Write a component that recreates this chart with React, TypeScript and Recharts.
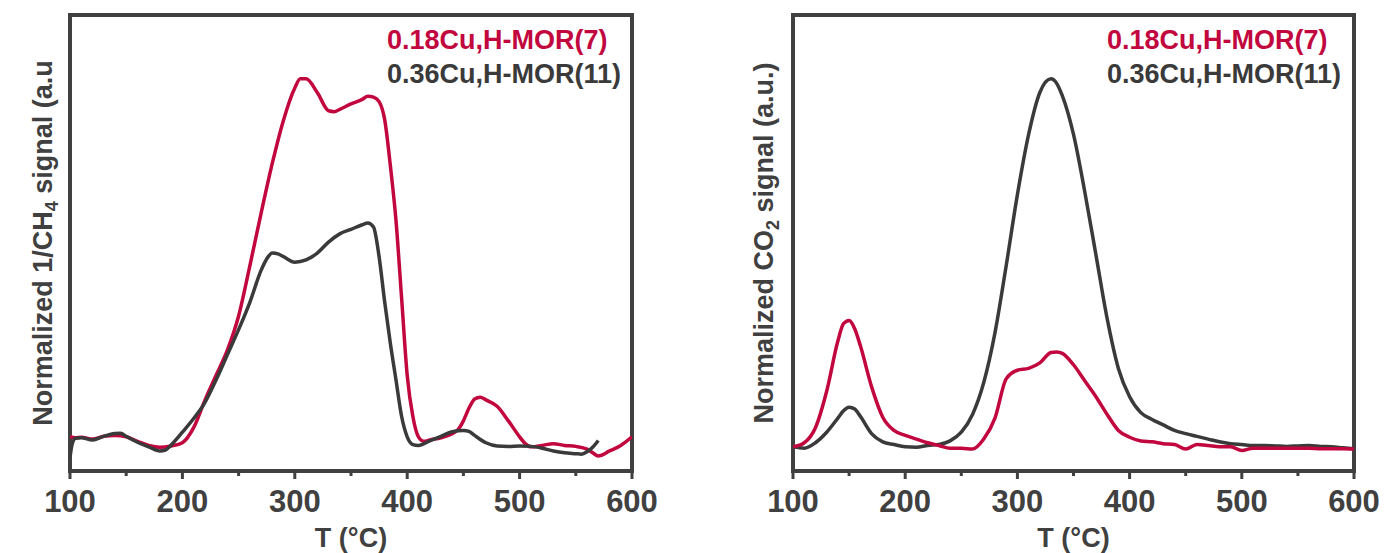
import { LineChart, Line, XAxis, YAxis, ReferenceArea, Legend, Customized } from 'recharts';

type Pt = [number, number];

const SERIES_NAMES = ['0.18Cu,H-MOR(7)', '0.36Cu,H-MOR(11)'];
const TEMP_TICKS = [100, 150, 200, 250, 300, 350, 400, 450, 500, 550, 600];

// 1/CH4 signal, panel a
const ch4Cu018: Pt[] = [
  [100, 7.5], [105, 7.3], [110, 7.4], [120, 7.0], [130, 7.6], [140, 7.8], [150, 7.5], [160, 6.5],
  [170, 5.6], [180, 5.2], [190, 5.5], [200, 6.2], [210, 9.5], [220, 15.5], [230, 21], [240, 26.5],
  [250, 34], [260, 45], [270, 56.5], [280, 67.5], [290, 77], [300, 84], [305, 86], [310, 86],
  [320, 83], [330, 79], [335, 78.8], [340, 79.3], [350, 80.5], [360, 81.5], [365, 82.2], [370, 82],
  [375, 81], [380, 77], [385, 67], [390, 55], [395, 38], [400, 21], [405, 12], [410, 7.5],
  [415, 6.5], [420, 6.8], [430, 7.3], [440, 8.2], [445, 9], [450, 11], [455, 13.8], [460, 15.8],
  [465, 16.2], [470, 15.6], [480, 14.2], [490, 11], [500, 7.5], [505, 6], [510, 5.3], [520, 5.6],
  [530, 6], [540, 5.6], [550, 5.4], [560, 4.8], [565, 4], [570, 3.3], [580, 4.4], [590, 5.6], [600, 7.5],
];

const ch4Cu036: Pt[] = [
  [100, 3], [102, 6], [105, 7.2], [110, 7.3], [120, 6.8], [130, 7.6], [140, 8.2], [145, 8.3],
  [150, 7.6], [160, 6.3], [170, 5.3], [180, 4.4], [185, 4.6], [190, 5.7], [200, 8.5], [210, 11.5],
  [220, 15], [230, 20], [240, 25.5], [250, 31], [260, 37], [270, 44], [275, 46.5], [280, 47.8],
  [285, 47.6], [290, 47], [300, 45.8], [310, 46.3], [320, 47.8], [330, 50.2], [340, 52], [350, 53],
  [360, 54], [365, 54.4], [370, 53.5], [375, 47], [380, 37], [385, 28], [390, 20], [395, 12],
  [400, 7.5], [405, 5.8], [410, 5.6], [420, 6.6], [430, 7.6], [440, 8.6], [450, 8.9], [455, 8.7],
  [460, 7.8], [470, 6.2], [480, 5.5], [490, 5.4], [500, 5.5], [510, 5.4], [520, 5], [530, 4.4],
  [540, 4], [550, 3.8], [555, 3.7], [560, 4.2], [565, 5.2], [570, 6.7],
];

// CO2 signal, panel b
const co2Cu018: Pt[] = [
  [100, 5.3], [110, 6.2], [120, 9.5], [130, 17.5], [140, 28.5], [145, 32.3], [150, 33], [155, 31.2],
  [160, 27.5], [170, 18.5], [180, 11.8], [190, 8.9], [200, 7.8], [210, 7], [220, 6.2], [230, 5.6],
  [240, 5], [250, 5], [260, 4.8], [270, 7], [280, 11.6], [290, 20.2], [300, 22.1], [310, 22.5],
  [320, 23.7], [330, 26], [335, 26.1], [340, 25.8], [350, 23.3], [360, 19.8], [370, 16.3], [380, 12.4],
  [390, 8.9], [400, 7.4], [410, 6.6], [420, 6.4], [430, 6], [440, 5.8], [450, 4.8], [460, 5.8],
  [470, 5.6], [480, 5.3], [490, 5.3], [500, 4.5], [510, 5], [520, 5], [530, 5], [540, 5],
  [550, 5], [560, 5], [570, 4.9], [580, 4.9], [590, 4.9], [600, 4.8],
];

const co2Cu036: Pt[] = [
  [100, 5.3], [110, 5.0], [120, 6.2], [130, 8.5], [140, 11.6], [145, 13.2], [150, 14], [155, 13.6],
  [160, 12], [170, 8.2], [180, 6.4], [190, 5.8], [200, 5.3], [210, 5.2], [220, 5.6], [230, 5.8],
  [240, 6.6], [250, 8.5], [260, 12.4], [270, 19.4], [280, 30.3], [290, 45], [300, 60.6], [310, 73.8],
  [320, 83], [330, 86], [335, 85], [340, 82.3], [350, 73.8], [360, 61.3], [370, 47.4], [380, 33.4],
  [390, 22.5], [400, 16.3], [410, 12.8], [420, 11.3], [430, 10.1], [440, 8.9], [450, 8.2], [460, 7.6],
  [470, 7], [480, 6.4], [490, 6], [500, 5.8], [510, 5.6], [520, 5.6], [530, 5.5], [540, 5.4],
  [550, 5.5], [560, 5.6], [570, 5.4], [580, 5.3], [590, 5.1], [600, 4.9],
];

const RED = '#c2073f';
const DARK = '#3a3a3a';
const FRAME = '#404040';
const FONT = '"Liberation Sans", Arial, sans-serif';

const toRows = (pts: Pt[]) => pts.map(([t, v]) => ({ t, v }));

const TempTick = (props: any) => {
  const { x, y, payload } = props;
  const major = payload.value % 100 === 0;
  return (
    <g>
      <line x1={x} x2={x} y1={y} y2={y + (major ? 8 : 5)} stroke={FRAME} strokeWidth={3} />
      {major && (
        <text x={x} y={y + 41} textAnchor="middle" fill={FRAME} fontFamily={FONT} fontWeight="bold" fontSize={31}>
          {payload.value}
        </text>
      )}
    </g>
  );
};

const LegendBox = () => (
  <div style={{ fontFamily: FONT, fontSize: 27, lineHeight: '34px', whiteSpace: 'nowrap', fontWeight: 'bold' }}>
    <div style={{ color: RED }}>{SERIES_NAMES[0]}</div>
    <div style={{ color: DARK }}>{SERIES_NAMES[1]}</div>
  </div>
);

interface PanelProps {
  red: Pt[];
  dark: Pt[];
  redOnTop: boolean;
  marginLeft: number;
  marginRight: number;
  legendLeft: number;
  labelX: number;
  yLabel: [string, string, string];
}

const W = 693;
const H = 553;
const TOP = 15;
const BOTTOM_AXIS = 60;
const BOTTOM_MARGIN = 22;

const Panel = ({ red, dark, redOnTop, marginLeft, marginRight, legendLeft, labelX, yLabel }: PanelProps) => {
  const plotMidX = marginLeft + (W - marginLeft - marginRight) / 2;
  const plotMidY = TOP + (H - TOP - BOTTOM_AXIS - BOTTOM_MARGIN) / 2;
  const redLine = (
    <Line key="r" data={toRows(red)} dataKey="v" name={SERIES_NAMES[0]} type="monotone" stroke={RED}
      strokeWidth={3.5} dot={false} isAnimationActive={false} />
  );
  const darkLine = (
    <Line key="d" data={toRows(dark)} dataKey="v" name={SERIES_NAMES[1]} type="monotone" stroke={DARK}
      strokeWidth={3.5} dot={false} isAnimationActive={false} />
  );
  return (
    <LineChart width={W} height={H} margin={{ top: TOP, right: marginRight, bottom: BOTTOM_MARGIN, left: marginLeft }}>
      <XAxis dataKey="t" type="number" domain={[100, 600]} allowDataOverflow ticks={TEMP_TICKS} interval={0}
        axisLine={false} tickLine={false} tickSize={0} tickMargin={0} height={BOTTOM_AXIS} tick={<TempTick />} />
      <YAxis type="number" domain={[0, 100]} hide />
      {redOnTop ? [darkLine, redLine] : [redLine, darkLine]}
      <ReferenceArea x1={100} x2={600} y1={0} y2={100} fill="none" stroke={FRAME} strokeWidth={4} />
      <Legend layout="vertical" align="center" verticalAlign="middle"
        wrapperStyle={{ left: legendLeft, top: 23, width: 300, height: 70 }} content={<LegendBox />} />
      <Customized component={() => (
        <g fontFamily={FONT} fontWeight="bold" fill={FRAME}>
          <text x={plotMidX} y={547} textAnchor="middle" fontSize={27}>T (°C)</text>
          <text x={labelX} y={plotMidY} textAnchor="middle" fontSize={27}
            transform={`rotate(-90, ${labelX}, ${plotMidY})`}>
            {yLabel[0]}
            <tspan fontSize={18} dy={6}>{yLabel[1]}</tspan>
            <tspan dy={-6}>{yLabel[2]}</tspan>
          </text>
        </g>
      )} />
    </LineChart>
  );
};

export default function App() {
  return (
    <div style={{ position: 'absolute', left: 0, top: 0, width: 1386, height: 553, background: '#fff', display: 'flex' }}>
      <Panel red={ch4Cu018} dark={ch4Cu036} redOnTop={false} marginLeft={70} marginRight={61}
        legendLeft={387} labelX={52} yLabel={['Normalized 1/CH', '4', ' signal (a.u']} />
      <Panel red={co2Cu018} dark={co2Cu036} redOnTop={true} marginLeft={100} marginRight={32}
        legendLeft={414} labelX={80} yLabel={['Normalized CO', '2', ' signal (a.u.)']} />
    </div>
  );
}
